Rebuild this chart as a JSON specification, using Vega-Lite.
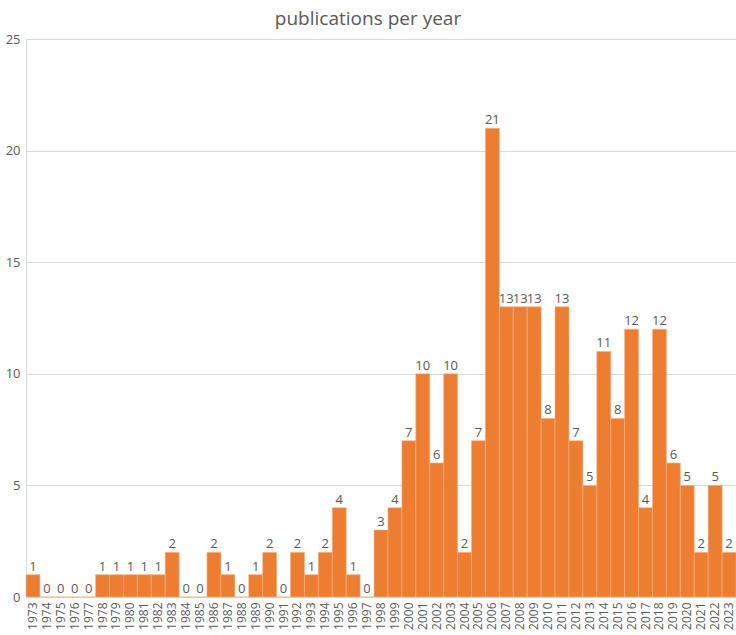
{
  "$schema": "https://vega.github.io/schema/vega-lite/v6.json",
  "autosize": "none",
  "width": 710,
  "height": 558,
  "padding": {"left": 26, "top": 39, "right": 0, "bottom": 38},
  "background": "white",
  "title": {"text": "publications per year", "font": "Open Sans", "fontSize": 19, "fontWeight": "normal", "color": "#595959", "anchor": "middle", "dx": -13, "offset": 4},
  "config": {"view": {"stroke": null}},
  "data": {"values": [
    {"year": "1973", "count": 1}, {"year": "1974", "count": 0}, {"year": "1975", "count": 0}, {"year": "1976", "count": 0}, {"year": "1977", "count": 0},
    {"year": "1978", "count": 1}, {"year": "1979", "count": 1}, {"year": "1980", "count": 1}, {"year": "1981", "count": 1}, {"year": "1982", "count": 1},
    {"year": "1983", "count": 2}, {"year": "1984", "count": 0}, {"year": "1985", "count": 0}, {"year": "1986", "count": 2}, {"year": "1987", "count": 1},
    {"year": "1988", "count": 0}, {"year": "1989", "count": 1}, {"year": "1990", "count": 2}, {"year": "1991", "count": 0}, {"year": "1992", "count": 2},
    {"year": "1993", "count": 1}, {"year": "1994", "count": 2}, {"year": "1995", "count": 4}, {"year": "1996", "count": 1}, {"year": "1997", "count": 0},
    {"year": "1998", "count": 3}, {"year": "1999", "count": 4}, {"year": "2000", "count": 7}, {"year": "2001", "count": 10}, {"year": "2002", "count": 6},
    {"year": "2003", "count": 10}, {"year": "2004", "count": 2}, {"year": "2005", "count": 7}, {"year": "2006", "count": 21}, {"year": "2007", "count": 13},
    {"year": "2008", "count": 13}, {"year": "2009", "count": 13}, {"year": "2010", "count": 8}, {"year": "2011", "count": 13}, {"year": "2012", "count": 7},
    {"year": "2013", "count": 5}, {"year": "2014", "count": 11}, {"year": "2015", "count": 8}, {"year": "2016", "count": 12}, {"year": "2017", "count": 4},
    {"year": "2018", "count": 12}, {"year": "2019", "count": 6}, {"year": "2020", "count": 5}, {"year": "2021", "count": 2}, {"year": "2022", "count": 5},
    {"year": "2023", "count": 2}
  ]},
  "encoding": {
    "x": {"field": "year", "type": "ordinal", "sort": null,
      "scale": {"paddingInner": 0, "paddingOuter": 0},
      "axis": {"title": null, "labelAngle": -90, "labelFont": "Open Sans", "labelFontSize": 12, "labelColor": "#595959", "ticks": false, "labelPadding": 5, "domainColor": "#d9d9d9", "domainWidth": 1}},
    "y": {"field": "count", "type": "quantitative",
      "scale": {"domain": [0, 25]},
      "axis": {"title": null, "values": [0, 5, 10, 15, 20, 25], "labelFont": "Open Sans", "labelFontSize": 13, "labelColor": "#595959", "ticks": false, "labelPadding": 6, "gridColor": "#d9d9d9", "domainColor": "#d9d9d9"}}
  },
  "layer": [
    {"mark": {"type": "bar", "color": "#ED7D31", "stroke": "#F4B183", "strokeWidth": 0.6}},
    {"mark": {"type": "text", "baseline": "bottom", "dy": -1, "font": "Open Sans", "fontSize": 13, "fill": "#595959"},
     "encoding": {"text": {"field": "count", "type": "quantitative"}}}
  ]
}
